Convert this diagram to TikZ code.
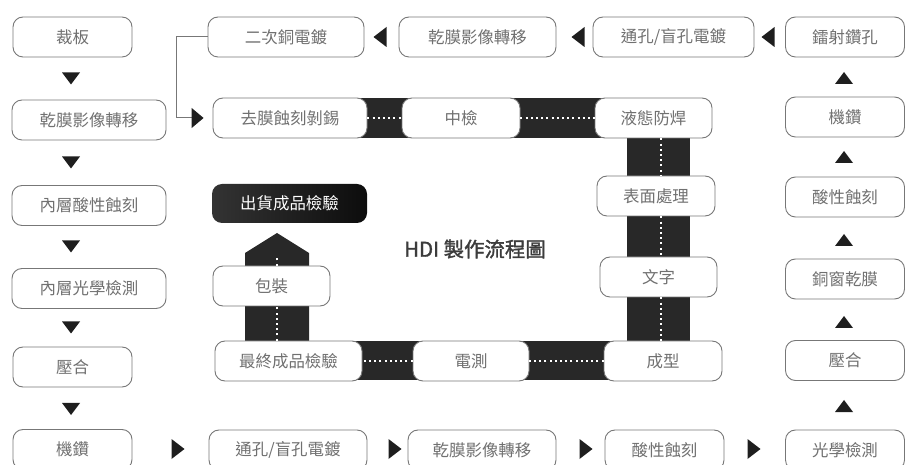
\documentclass[tikz,border=0pt]{standalone}
\usepackage{fontspec}
\setmainfont{Noto Sans CJK TC}
\newfontfamily\titlefont{Noto Sans CJK TC}[FakeBold=1.6]
\usetikzlibrary{arrows.meta,calc}
\definecolor{road}{HTML}{282828}
\definecolor{edgec}{HTML}{777777}
\definecolor{txt}{HTML}{707070}
\definecolor{trif}{HTML}{1E1E1E}
\definecolor{titlec}{HTML}{3C3C3C}
\tikzset{
  box/.style={draw=edgec, line width=0.9bp, rounded corners=10bp, fill=white,
    minimum height=40bp, inner sep=0pt, text=txt, font=\fontsize{16.5}{18}\selectfont},
  darkbox/.style={rounded corners=10bp, left color=black!80, right color=black!95,
    minimum height=39bp, inner sep=0pt, text=white, font=\fontsize{16.5}{18}\selectfont},
  roadfill/.style={fill=road},
  dots/.style={draw=white, line width=1.6bp, dash pattern=on 2bp off 3.2bp},
  conn/.style={draw=edgec, line width=1bp},
  tdown/.pic={\fill[trif] (-9,-6) -- (9,-6) -- (0,6) -- cycle;},
  tup/.pic={\fill[trif] (-9,6) -- (9,6) -- (0,-6) -- cycle;},
  tleft/.pic={\fill[trif] (6.5,-10) -- (6.5,10) -- (-6.5,0) -- cycle;},
  tright/.pic={\fill[trif] (-6.5,-10) -- (-6.5,10) -- (6.5,0) -- cycle;},
}
\begin{document}
\begin{tikzpicture}[x=1bp, y=-1bp]
\useasboundingbox (0,0) rectangle (905,465);
% roads
\fill[roadfill] (355,98) rectangle (615,138);
\fill[roadfill] (627,130) rectangle (690,350);
\fill[roadfill] (340,341) rectangle (615,380);
\fill[roadfill] (245,345) -- (245,253) -- (277,233) -- (309,253) -- (309,345) -- cycle;

% left column
\node[box, minimum width=119bp] (caiban) at (72.5,37) {裁板};
\node[box, minimum width=154bp] (ganmoL) at (89,120) {乾膜影像轉移};
\node[box, minimum width=154bp] (suanL) at (89,205.5) {內層酸性蝕刻};
\node[box, minimum width=154bp] (guangL) at (89,288.5) {內層光學檢測};
\node[box, minimum width=119bp] (yaheL) at (72.5,367) {壓合};
\node[box, minimum width=119bp] (jizuanL) at (72.5,449.5) {機鑽};

% bottom row
\node[box, minimum width=158bp] (tongB) at (288,450) {通孔/盲孔電鍍};
\node[box, minimum width=148bp] (ganmoB) at (482,450) {乾膜影像轉移};
\node[box, minimum width=119bp] (suanB) at (664.5,450) {酸性蝕刻};

% right column
\node[box, minimum width=119bp] (guangR) at (845,450) {光學檢測};
\node[box, minimum width=119bp] (yaheR) at (845,360.5) {壓合};
\node[box, minimum width=119bp] (tongchuang) at (845,279) {銅窗乾膜};
\node[box, minimum width=119bp] (suanR) at (845,197) {酸性蝕刻};
\node[box, minimum width=119bp] (jizuanR) at (845,117) {機鑽};
\node[box, minimum width=119bp] (leishe) at (845,37) {鐳射鑽孔};

% top row
\node[box, minimum width=161bp] (tongT) at (673.5,37) {通孔/盲孔電鍍};
\node[box, minimum width=157bp] (ganmoT) at (477.5,37) {乾膜影像轉移};
\node[box, minimum width=156bp] (erci) at (286,37) {二次銅電鍍};

% road boxes
\node[box, minimum width=154bp] (qumo) at (290,118) {去膜蝕刻剝錫};
\node[box, minimum width=118bp] (zhongjian) at (461,118) {中檢};
\node[box, minimum width=117bp] (yetai) at (653.5,118) {液態防焊};
\node[box, minimum width=118bp] (biaomian) at (656,196) {表面處理};
\node[box, minimum width=117bp] (wenzi) at (658.5,277) {文字};
\node[box, minimum width=118bp] (chengxing) at (663,361) {成型};
\node[box, minimum width=116bp] (dianche) at (471,361) {電測};
\node[box, minimum width=147bp] (zuizhong) at (288.5,361) {最終成品檢驗};
\node[box, minimum width=117bp] (baozhuang) at (271.5,286) {包裝};
\node[darkbox, minimum width=155bp] (chuhuo) at (289.5,203.5) {出貨成品檢驗};

% title
\node[text=titlec, font=\titlefont\fontsize{20.5}{22}\selectfont, inner sep=0pt] (title) at (475,249) {HDI 製作流程圖};

% dotted centre lines
\coordinate (rv) at (661,0);
\coordinate (lv) at (277,257);
\draw[dots] (qumo.east) -- (zhongjian.west);
\draw[dots] (zhongjian.east) -- (yetai.west);
\draw[dots] (rv |- yetai.south) -- (rv |- biaomian.north);
\draw[dots] (rv |- biaomian.south) -- (rv |- wenzi.north);
\draw[dots] (rv |- wenzi.south) -- (rv |- chengxing.north);
\draw[dots] (chengxing.west) -- (dianche.east);
\draw[dots] (dianche.west) -- (zuizhong.east);
\draw[dots] (lv |- zuizhong.north) -- (lv |- baozhuang.south);
\draw[dots] (lv |- baozhuang.north) -- (lv);

% connector
\coordinate (bend) at (176,37);
\draw[conn, -{Triangle[length=12bp, width=20bp, color=trif, fill=trif]}, shorten >=9bp]
  (erci.west) -- (bend) |- (qumo.west);

% flow triangles
\pic at (71,78.5) {tdown};
\pic at (71,162.5) {tdown};
\pic at (71,246.5) {tdown};
\pic at (71,327.5) {tdown};
\pic at (71,409) {tdown};
\pic at (178,449) {tright};
\pic at (395,449) {tright};
\pic at (586,449) {tright};
\pic at (754,449) {tright};
\pic at (844,406) {tup};
\pic at (844,322) {tup};
\pic at (844,240) {tup};
\pic at (844,157) {tup};
\pic at (844,78) {tup};
\pic at (768,37) {tleft};
\pic at (578,37) {tleft};
\pic at (380,37) {tleft};
\end{tikzpicture}
\end{document}
